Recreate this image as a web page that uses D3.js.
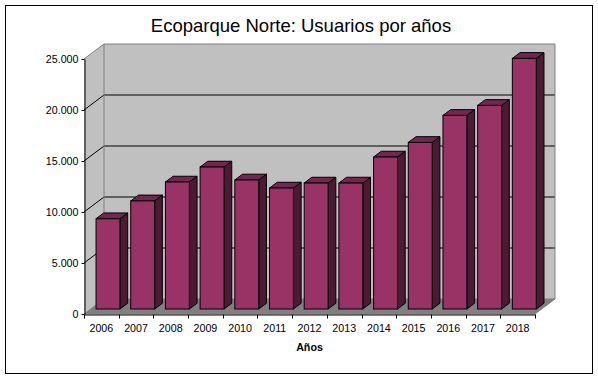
<!DOCTYPE html>
<html><head><meta charset="utf-8">
<script src="https://cdn.jsdelivr.net/npm/d3@7"></script>
<style>
html,body{margin:0;padding:0;background:#fff;}
svg{display:block;font-family:"Liberation Sans",Arial,sans-serif;}
</style></head>
<body>
<svg id="c" width="598" height="378"></svg>
<script>
const title = "Ecoparque Norte: Usuarios por años";
const xTitle = "Años";
const years = ["2006","2007","2008","2009","2010","2011","2012","2013","2014","2015","2016","2017","2018"];
const usuarios = [8850, 10600, 12450, 13920, 12650, 11860, 12350, 12350, 14900, 16330, 18980, 19960, 24570];
const yTicks = [0, 5000, 10000, 15000, 20000, 25000];

const svg = d3.select("#c");

// outer border
svg.append("rect").attr("x",5.5).attr("y",5.5).attr("width",587).attr("height",368)
  .attr("fill","#fff").attr("stroke","#000").attr("stroke-width",1);

const x = d3.scaleBand().domain(years).range([84, 535]).padding(0);
const y = d3.scaleLinear().domain([0, 25000]).range([314, 59]);
const DX = 20, DY = -15; // depth projection
const P = (px, v, d) => [px + DX*d, y(v) + DY*d];

const g = svg.append("g");
const line = d3.line();

// left wall
g.append("path").attr("d", line([P(84,0,0),P(84,0,1),P(84,25000,1),P(84,25000,0)])+"Z")
  .attr("fill","#c0c0c0").attr("stroke","none");
// back wall
g.append("path").attr("d", line([P(84,0,1),P(535,0,1),P(535,25000,1),P(84,25000,1)])+"Z")
  .attr("fill","#c0c0c0").attr("stroke","none");
// floor
g.append("path").attr("d", line([P(84,0,0),P(535,0,0),P(535,0,1),P(84,0,1)])+"Z")
  .attr("fill","#808080").attr("stroke","#808080").attr("stroke-width",1);

// gridlines
yTicks.filter(v => v > 0 && v < 25000).forEach(v => {
  g.append("path").attr("d", line([P(84,v,0),P(84,v,1),P(535,v,1)]))
    .attr("fill","none").attr("stroke","#000").attr("stroke-width",1);
});
// wall edges (gray)
g.append("path").attr("d", line([P(84,25000,0),P(84,25000,1),P(535,25000,1),P(535,0,1)]))
  .attr("fill","none").attr("stroke","#808080").attr("stroke-width",1);
g.append("path").attr("d", line([P(84,25000,1),P(84,0,1)]))
  .attr("fill","none").attr("stroke","#808080").attr("stroke-width",1);

// bars
const bw = x.bandwidth()*0.69;
const d0 = 1/3, d1 = 1/3 + 0.385;
const bars = g.append("g");
years.forEach((yr, i) => {
  const v = usuarios[i];
  const xl = x(yr) + (x.bandwidth()-bw)/2;
  const xr = xl + bw;
  bars.append("path").attr("d", line([P(xr,0,d0),P(xr,0,d1),P(xr,v,d1),P(xr,v,d0)])+"Z")
    .attr("fill","#4d1a36").attr("stroke","#000").attr("stroke-width",1).attr("stroke-linejoin","round");
  bars.append("path").attr("d", line([P(xl,v,d0),P(xr,v,d0),P(xr,v,d1),P(xl,v,d1)])+"Z")
    .attr("fill","#732650").attr("stroke","#000").attr("stroke-width",1).attr("stroke-linejoin","round");
  const [fx, fy] = P(xl, v, d0);
  const [, fb] = P(xl, 0, d0);
  bars.append("rect").attr("x",fx).attr("y",fy).attr("width",bw).attr("height",fb-fy)
    .attr("fill","#993366").attr("stroke","#000").attr("stroke-width",1);
});

// y axis
const loc = d3.formatLocale({decimal:",", thousands:".", grouping:[3], currency:["",""]});
const fmt = loc.format(",d");
const yAxis = d3.axisLeft(y).tickValues(yTicks).tickFormat(fmt).tickSize(3).tickSizeOuter(0).tickPadding(3);
const ya = svg.append("g").attr("transform","translate(84.5,0)").call(yAxis);
ya.selectAll("text").attr("font-size","10.7px").attr("font-family","Liberation Sans, Arial, sans-serif").attr("fill","#000");
ya.selectAll("line,path").attr("stroke","#000");

// x axis
const xAxis = d3.axisBottom(x).tickSize(0).tickSizeOuter(0).tickPadding(10.4);
const xa = svg.append("g").attr("transform","translate(0,314.5)").call(xAxis);
xa.selectAll("text").attr("font-size","10.7px").attr("font-family","Liberation Sans, Arial, sans-serif").attr("fill","#000");
xa.select("path.domain").attr("stroke","#000");
const bounds = years.map(d => x(d)).concat([x.range()[1]]);
xa.selectAll("line.bt").data(bounds).enter().append("line").attr("class","bt")
  .attr("x1",d=>Math.round(d)+0.5).attr("x2",d=>Math.round(d)+0.5).attr("y1",0).attr("y2",4).attr("stroke","#000");

// titles
svg.append("text").attr("x",301).attr("y",32).attr("text-anchor","middle")
  .attr("font-size","18.5px").text(title);
svg.append("text").attr("x",309.5).attr("y",351).attr("text-anchor","middle")
  .attr("font-size","10.7px").attr("font-weight","bold").text(xTitle);
</script>
</body></html>
